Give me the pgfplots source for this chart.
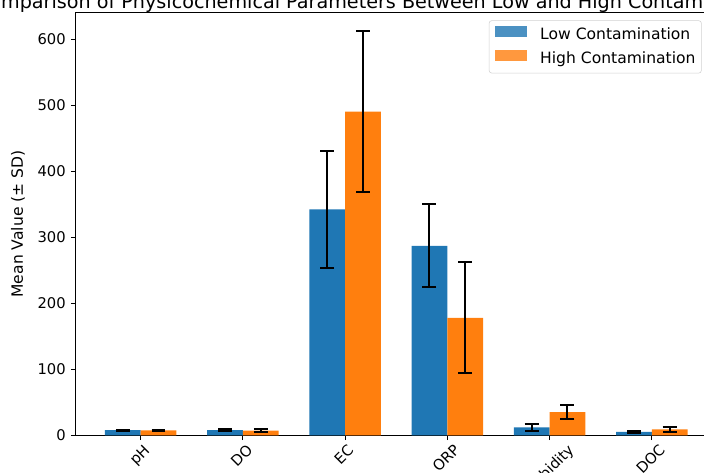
\documentclass[border=0pt]{standalone}
\usepackage{fontspec}
\setmainfont{DejaVu Sans}
\usepackage{graphicx}
\usepackage{pgfplots}
\usepackage{pgfplotstable}
\pgfplotsset{compat=1.18}
\definecolor{tabblue}{HTML}{1F77B4}
\definecolor{taborange}{HTML}{FF7F0E}
\pgfplotstableread{
x low lowsd high highsd
0 7.8 0.5 7.4 0.6
1 8.0 0.8 7.0 2.0
2 342 88 490 122
3 287 63 178 84
4 12 5 35 11
5 5 1.5 9 4
}\datatable
\begin{document}
\begin{tikzpicture}
\path[use as bounding box] (0,0) rectangle (7.04in,4.73in);
\clip (0,0) rectangle (7.04in,4.73in);
\begin{axis}[
  at={(0.757in,0.377in)}, anchor=south west,
  scale only axis, width=6.41in, height=4.226in,
  xmin=-0.635, xmax=5.635, ymin=0, ymax=640,
  ybar, bar width=0.35,
  xtick={0,1,2,3,4,5},
  xticklabels={\rotatebox{45}{\strut pH},\rotatebox{45}{\strut DO},\rotatebox{45}{\strut EC},\rotatebox{45}{\strut ORP},\rotatebox{45}{\strut Turbidity},\rotatebox{45}{\strut DOC}},
  ytick={0,100,200,300,400,500,600},
  xtick pos=bottom, ytick pos=left,
  tick align=outside, major tick length=3.5bp,
  tick style={black, line width=0.8bp},
  axis line style={black, line width=0.8bp},
  tick label style={font=\fontsize{10.6bp}{12.7bp}\selectfont},
  /pgf/number format/assume math mode=true,
  xticklabel style={anchor=north, inner sep=0pt, yshift=-1.5bp},
  yticklabel style={anchor=east, inner sep=0pt, xshift=-3.5bp},
  ylabel={Mean Value (± SD)},
  ylabel style={font=\fontsize{11.2bp}{13.4bp}\selectfont, at={(axis description cs:-0.09,0.5)}, anchor=center},
  title={Comparison of Physicochemical Parameters Between Low and High Contamination},
  title style={font=\fontsize{13.8bp}{16.5bp}\selectfont, at={(axis description cs:0.5,1)}, anchor=base, yshift=-3.2pt, xshift=-17bp},
  legend style={at={(axis description cs:1,1)}, anchor=north east, xshift=-10.8bp, yshift=-5.5bp,
    draw=black!18, fill=white, fill opacity=0.8, text opacity=1, rounded corners=2bp,
    font=\fontsize{11.2bp}{13.4bp}\selectfont, inner xsep=4.3bp, inner ysep=4bp, row sep=4.8bp,
    nodes={inner sep=0pt, text height=8bp, text depth=3bp},
    row 2/.style={nodes={text depth=12.2bp}}},
  legend cell align=left,
  legend image code/.code={\fill[#1, sharp corners] (0bp,-0.5bp) rectangle (23bp,7bp); \path (32.5bp,0bp);},
]
\addplot[fill=tabblue, draw=none, bar shift=-0.175,
  error bars/.cd, y dir=both, y explicit,
  error bar style={line width=1.5bp, black},
  error mark options={rotate=90, mark size=5bp, line width=1.5bp, black}]
  table[x=x, y=low, y error=lowsd]{\datatable};
\addlegendentry{Low Contamination}
\addplot[fill=taborange, draw=none, bar shift=0.175,
  error bars/.cd, y dir=both, y explicit,
  error bar style={line width=1.5bp, black},
  error mark options={rotate=90, mark size=5bp, line width=1.5bp, black}]
  table[x=x, y=high, y error=highsd]{\datatable};
\addlegendentry{High Contamination}
\end{axis}
\end{tikzpicture}
\end{document}
